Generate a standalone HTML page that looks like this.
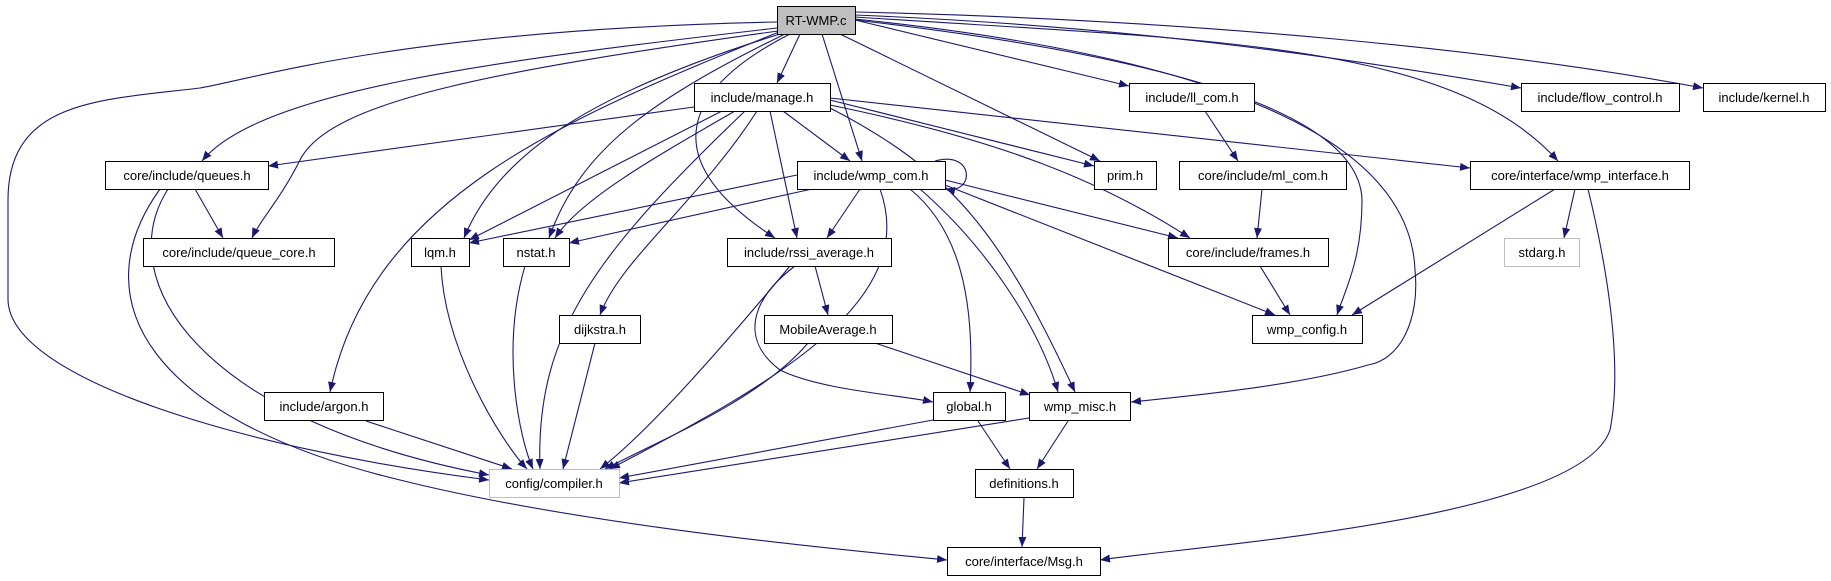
<!DOCTYPE html>
<html><head><meta charset="utf-8"><style>
html,body{margin:0;padding:0;background:#fff;}
svg{display:block;}
text{font-family:"Liberation Sans",sans-serif;font-size:13px;fill:#000;}
</style></head><body>
<svg width="1831" height="581" viewBox="0 0 1831 581" xmlns="http://www.w3.org/2000/svg">
<defs>
<marker id="a" viewBox="0 0 10 10" refX="10" refY="5" markerWidth="10" markerHeight="10" markerUnits="userSpaceOnUse" orient="auto">
<path d="M0,1 L10,5 L0,9 z" fill="#191970"/>
</marker>
</defs>
<g fill="none" stroke="#191970" stroke-width="1.1" marker-end="url(#a)">
<!-- RT-WMP.c -->
<path d="M800,34 L777,83"/>
<path d="M777,28 C500,60 260,90 202,161"/>
<path d="M778,31 C500,70 330,100 300,160 C280,200 260,220 252,238"/>
<path d="M780,34 C600,90 500,150 464,238"/>
<path d="M785,34 C650,100 580,150 549,238"/>
<path d="M790,34 C700,80 640,150 775,238"/>
<path d="M822,34 L862,161"/>
<path d="M777,22 C400,30 250,80 200,88 C100,100 8,100 8,200 L8,300 C10,380 250,450 489,480"/>
<path d="M779,32 C560,120 370,200 330,392"/>
<path d="M840,34 L1100,161"/>
<path d="M855,20 L1129,86"/>
<path d="M855,15 C1100,25 1300,50 1521,88"/>
<path d="M855,12 C1200,20 1500,50 1703,88"/>
<path d="M855,17 C1200,40 1450,40 1558,161"/>
<path d="M855,20 C1200,60 1360,120 1362,200 C1362,260 1345,290 1337,315"/>
<path d="M855,19 C1250,60 1410,150 1415,270 C1420,320 1400,360 1368,365 C1300,385 1200,395 1131,402"/>
<!-- manage.h -->
<path d="M694,107 L268,166"/>
<path d="M722,111 L469,240"/>
<path d="M735,111 C650,160 580,200 555,238"/>
<path d="M770,111 L797,238"/>
<path d="M783,111 L850,161"/>
<path d="M757,111 C700,200 620,260 600,315"/>
<path d="M745,111 C600,250 535,330 540,469"/>
<path d="M830,100 L1094,166"/>
<path d="M830,105 C1000,140 1100,180 1190,238"/>
<path d="M830,98 L1470,168"/>
<path d="M830,108 C950,170 1000,230 1075,392"/>
<!-- wmp_com.h -->
<path d="M935,161 C975,150 975,195 945,189"/>
<path d="M797,175 L469,243"/>
<path d="M812,189 L569,243"/>
<path d="M860,189 L827,238"/>
<path d="M945,180 L1178,238"/>
<path d="M945,185 L1275,315"/>
<path d="M910,189 C960,230 975,300 970,392"/>
<path d="M920,189 C990,250 1040,330 1058,392"/>
<path d="M880,189 C920,300 780,380 610,469"/>
<!-- queues -->
<path d="M195,189 L223,238"/>
<path d="M168,189 C110,280 200,420 489,475"/>
<path d="M160,189 C80,300 150,420 400,480 C600,530 900,555 947,560"/>
<!-- others -->
<path d="M441,266 C445,350 500,440 527,469"/>
<path d="M525,266 C500,350 520,440 533,469"/>
<path d="M815,266 L828,315"/>
<path d="M795,266 C750,300 740,340 780,370 C820,390 900,395 933,402"/>
<path d="M790,266 C720,350 650,430 600,469"/>
<path d="M595,343 L563,469"/>
<path d="M808,343 C760,400 660,440 605,469"/>
<path d="M875,343 L1030,395"/>
<path d="M366,421 L512,469"/>
<path d="M933,420 L619,478"/>
<path d="M978,421 L1010,469"/>
<path d="M1029,418 L619,483"/>
<path d="M1068,421 L1037,469"/>
<path d="M1024,498 L1022,547"/>
<path d="M1205,111 L1238,161"/>
<path d="M1262,189 L1257,238"/>
<path d="M1260,266 L1290,315"/>
<path d="M1575,189 L1564,238"/>
<path d="M1555,189 L1352,315"/>
<path d="M1588,189 C1615,300 1620,380 1610,430 C1580,520 1200,545 1100,560"/>
</g>
<g stroke="#000" stroke-width="1" fill="#fff">
<rect x="777.5" y="6.5" width="78" height="28" fill="#bfbfbf"/>
<rect x="694.5" y="83.5" width="136" height="28"/>
<rect x="1129.5" y="83.5" width="125" height="28"/>
<rect x="1521.5" y="83.5" width="158" height="28"/>
<rect x="1703.5" y="83.5" width="122" height="28"/>
<rect x="105.5" y="161.5" width="163" height="28"/>
<rect x="797.5" y="161.5" width="148" height="28"/>
<rect x="1094.5" y="161.5" width="62" height="28"/>
<rect x="1179.5" y="161.5" width="167" height="28"/>
<rect x="1470.5" y="161.5" width="219" height="28"/>
<rect x="143.5" y="238.5" width="191" height="28"/>
<rect x="411.5" y="238.5" width="58" height="28"/>
<rect x="503.5" y="238.5" width="66" height="28"/>
<rect x="727.5" y="238.5" width="164" height="28"/>
<rect x="1168.5" y="238.5" width="160" height="28"/>
<rect x="1504.5" y="238.5" width="75" height="28" stroke="#bfbfbf"/>
<rect x="559.5" y="315.5" width="81" height="28"/>
<rect x="764.5" y="315.5" width="128" height="28"/>
<rect x="1252.5" y="315.5" width="110" height="28"/>
<rect x="264.5" y="392.5" width="119" height="28"/>
<rect x="933.5" y="392.5" width="72" height="28"/>
<rect x="1029.5" y="392.5" width="101" height="28"/>
<rect x="489.5" y="469.5" width="130" height="28" stroke="#bfbfbf"/>
<rect x="975.5" y="469.5" width="98" height="28"/>
<rect x="947.5" y="547.5" width="153" height="28"/>
</g>
<g text-anchor="middle">
<text x="816" y="25">RT-WMP.c</text>
<text x="762" y="102">include/manage.h</text>
<text x="1192" y="102">include/ll_com.h</text>
<text x="1600" y="102">include/flow_control.h</text>
<text x="1764" y="102">include/kernel.h</text>
<text x="187" y="180">core/include/queues.h</text>
<text x="871" y="180">include/wmp_com.h</text>
<text x="1125" y="180">prim.h</text>
<text x="1263" y="180">core/include/ml_com.h</text>
<text x="1580" y="180">core/interface/wmp_interface.h</text>
<text x="239" y="257">core/include/queue_core.h</text>
<text x="440" y="257">lqm.h</text>
<text x="536" y="257">nstat.h</text>
<text x="809" y="257">include/rssi_average.h</text>
<text x="1248" y="257">core/include/frames.h</text>
<text x="1542" y="257">stdarg.h</text>
<text x="600" y="334">dijkstra.h</text>
<text x="828" y="334">MobileAverage.h</text>
<text x="1307" y="334">wmp_config.h</text>
<text x="324" y="411">include/argon.h</text>
<text x="969" y="411">global.h</text>
<text x="1080" y="411">wmp_misc.h</text>
<text x="554" y="488">config/compiler.h</text>
<text x="1024" y="488">definitions.h</text>
<text x="1024" y="566">core/interface/Msg.h</text>
</g>
</svg>
</body></html>
